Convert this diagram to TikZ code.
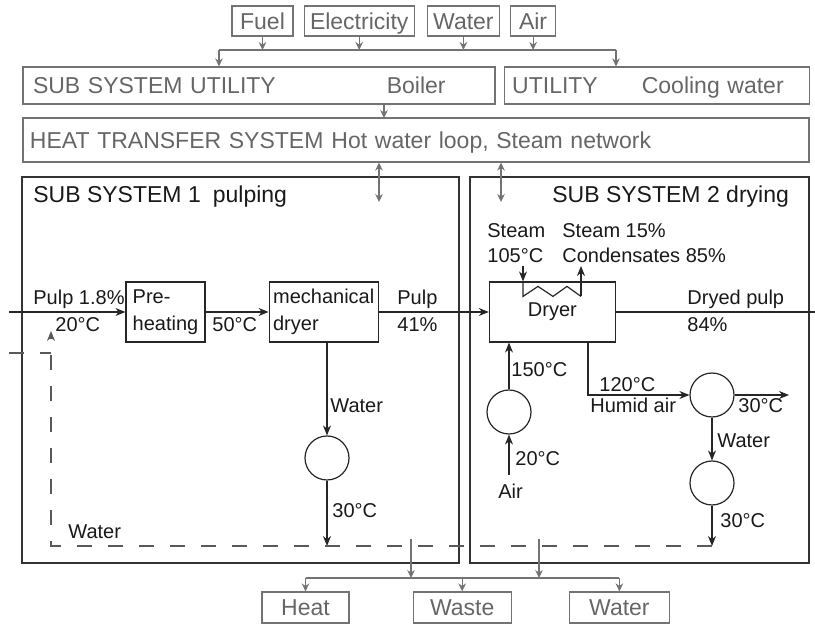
\documentclass[tikz,border=0pt]{standalone}
\usepackage{fontspec}
\setsansfont{Liberation Sans}
\usetikzlibrary{arrows.meta,positioning}

\begin{document}
\begin{tikzpicture}[
    x=0.5pt, y=-0.5pt,
    font=\sffamily\fontsize{10}{13.5}\selectfont,
    big/.style={font=\sffamily\fontsize{11.5}{14}\selectfont},
    gbox/.style={draw=black!55, text=black!60, big, line width=0.6pt,
                 minimum height=15pt, inner xsep=0pt, inner ysep=0pt,
                 text height=8.5pt, text depth=0pt},
    ubox/.style={draw=black!55, text=black!60, big, line width=0.6pt,
                 align=left, inner ysep=0pt, text height=8.5pt, text depth=0pt},
    sysbox/.style={draw=black!80, line width=0.7pt},
    unitbox/.style={draw=black!85, line width=0.6pt, minimum height=30pt,
                    align=left, inner xsep=0pt, text=black!90},
    pump/.style={draw=black!85, circle, line width=0.6pt, minimum size=22pt, inner sep=0pt},
    lbl/.style={anchor=base west, inner sep=0pt, text=black!90, align=left},
    gline/.style={black!55, line width=0.6pt},
    garrow/.style={-{Stealth[length=4pt,width=3.8pt]}, gline},
    dgarrow/.style={{Stealth[length=4pt,width=3.8pt]}-{Stealth[length=4pt,width=3.8pt]}, gline},
    flow/.style={black!85, line width=0.6pt},
    arrow/.style={-{Stealth[length=5pt,width=4pt]}, flow},
    water/.style={black!65, line width=0.7pt, dash pattern=on 7.5pt off 8pt}
]
\useasboundingbox (0,0) rectangle (815,625);

\node[gbox, minimum width=30.5pt] (fuel) at (262.5,21) {Fuel};
\node[gbox, minimum width=55pt, right=5pt of fuel] (elec) {Electricity};
\node[gbox, minimum width=36pt, right=6pt of elec] (wat) {Water};
\node[gbox, minimum width=22.5pt, right=5pt of wat] (airin) {Air};

\node[ubox, minimum height=18.5pt, text width=226pt, inner xsep=5pt] (ssutil) at (259,85.5) {SUB SYSTEM UTILITY\hspace{55.5pt}Boiler};
\node[ubox, minimum height=18.5pt, text width=144.5pt, inner xsep=4pt, right=4pt of ssutil] (cool) {UTILITY\hspace{22pt}Cooling water};
\node[ubox, minimum height=22pt, text width=386pt, inner xsep=3.5pt] (heat) at (416,140) {HEAT TRANSFER SYSTEM\hspace{4pt}Hot water loop, Steam network};

\coordinate (tbl) at (219,50);
\coordinate (tbr) at (616,50);
\draw[gline] (tbl) -- (tbr);
\foreach \n in {fuel,elec,wat,airin}
  \draw[garrow] (\n.south) -- (\n.south |- tbl);
\draw[garrow] (tbl) -- (tbl |- ssutil.north);
\draw[garrow] (tbr) -- (tbr |- cool.north);
\coordinate (u2h) at (384,118);
\draw[garrow] (ssutil.south -| u2h) -- (u2h);

\node[sysbox, minimum width=218.5pt, minimum height=193pt] (ss1) at (240.5,370) {};
\node[sysbox, minimum width=169.5pt, minimum height=193pt] (ss2) at (639.5,370) {};
\coordinate (d1) at (379,202);
\coordinate (d2) at (501,202);
\draw[dgarrow] (heat.south -| d1) -- (d1);
\draw[dgarrow] (heat.south -| d2) -- (d2);

\node[lbl, big] (t1) at (33,203) {SUB SYSTEM 1\hspace{6pt}pulping};
\node[lbl, big] (t2) at (552,203) {SUB SYSTEM 2 drying};

\node[unitbox, minimum width=39.5pt] (pre) at (165.5,312) {Pre-\\heating};
\node[unitbox, minimum width=54.5pt, right=31.5pt of pre] (mech) {mechanical\\dryer};
\node[unitbox, minimum width=63pt, align=center, right=55pt of mech] (dryer) {Dryer};

\coordinate (pin) at (9,312);
\coordinate (pout) at (815,312);
\draw[arrow] (pin) -- (pre);
\draw[arrow] (pre) -- (mech);
\draw[arrow] (mech) -- (dryer);
\draw[flow] (dryer) -- (pout);
\node[lbl] (pulpin) at (33,305) {Pulp 1.8\%};
\node[lbl] (tin) at (55,332) {20°C};
\node[lbl] (tpre) at (212,332) {50°C};
\node[lbl] (pulpmid) at (397,332) {Pulp\\41\%};

\node[pump] (wc1) at (327,458) {};
\coordinate (lp1) at (327,546);
\draw[arrow] (mech.south -| wc1) -- (wc1);
\draw[arrow] (wc1) -- (lp1);
\node[lbl] (w1) at (330,413) {Water};
\node[lbl] (tw1) at (332,518) {30°C};

\node[lbl] (stl) at (487,263) {Steam\\[-1pt]105°C};
\node[lbl] (str) at (562,263) {Steam 15\%\\[-1pt]Condensates 85\%};
\coordinate (stin) at (523,266);
\draw[arrow] (stin) -- (stin |- dryer.north);
\draw[flow] (stin |- dryer.north) -- ++(0,15) -- ++(15,-10) -- ++(15,10)
  -- ++(14,-10) -- ++(14,10) coordinate (stout);
\draw[arrow] (stout) -- (stout |- stin);
\node[lbl] (pulpout) at (687,332) {Dryed pulp\\84\%};

\node[pump] (ac) at (509,412) {};
\coordinate (ain) at (509,475);
\draw[arrow] (ac) -- (ac |- dryer.south);
\draw[arrow] (ain) -- (ac);
\node[lbl] (tac) at (511,377) {150°C};
\node[lbl] (tair) at (515,466) {20°C};
\node[lbl] (air) at (498,499) {Air};

\node[pump] (hc) at (712,395) {};
\node[pump] (lc) at (712,483) {};
\coordinate (hx) at (588,395);
\coordinate (aout) at (789,395);
\coordinate (lp2) at (712,546);
\draw[arrow] (dryer.south -| hx) -- (hx) -- (hc);
\draw[arrow] (hc) -- (aout);
\draw[arrow] (hc) -- (lc);
\draw[arrow] (lc) -- (lp2);
\node[lbl] (thx) at (599,392) {120°C};
\node[lbl] (humid) at (590,413) {Humid air};
\node[lbl] (taout) at (738,413) {30°C};
\node[lbl] (w2) at (717,448) {Water};
\node[lbl] (tw2) at (720,528) {30°C};

\coordinate (lp0) at (51,546);
\coordinate (ret) at (51,331);
\coordinate (stub) at (9,353);
\draw[water, -{Stealth[length=5pt,width=4pt]}] (lp2) -- (lp0) -- (ret);
\draw[water] (stub) -- (stub -| ret);
\node[lbl] (wret) at (68,539) {Water};

\node[gbox, minimum width=43.5pt, minimum height=15.5pt] (heatout) at (305.5,607.5) {Heat};
\node[gbox, minimum width=49pt, minimum height=15.5pt, right=31.5pt of heatout] (waste) {Waste};
\node[gbox, minimum width=50pt, minimum height=15.5pt, right=28.5pt of waste] (waterout) {Water};
\coordinate (o1) at (411,539);
\coordinate (o2) at (539,539);
\coordinate (bus) at (0,578);
\draw[gline] (heatout.north |- bus) -- (waterout.north |- bus);
\draw[garrow] (o1) -- (o1 |- bus);
\draw[garrow] (o2) -- (o2 |- bus);
\foreach \n in {heatout,waste,waterout}
  \draw[garrow] (\n.north |- bus) -- (\n.north);
\end{tikzpicture}
\end{document}
